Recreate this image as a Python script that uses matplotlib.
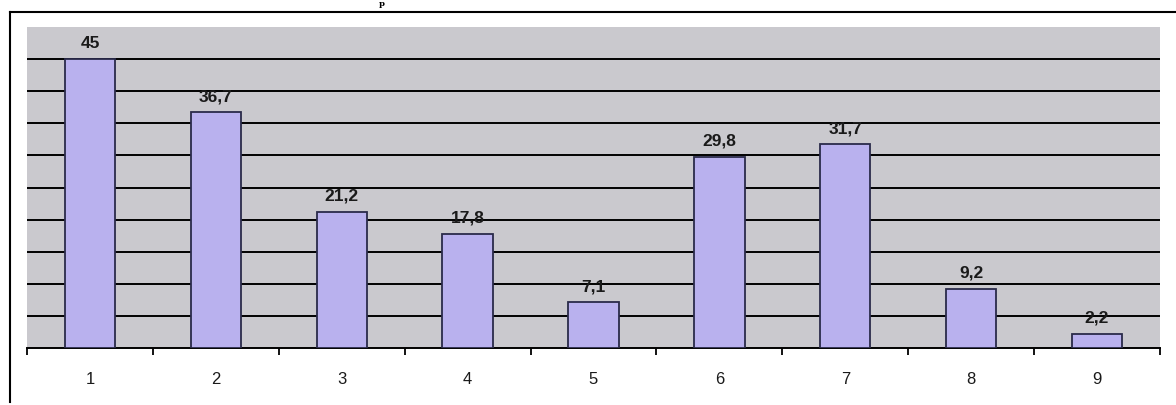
import matplotlib
matplotlib.use("Agg")
import matplotlib.pyplot as plt
from matplotlib.lines import Line2D
import numpy as np

categories = ["1", "2", "3", "4", "5", "6", "7", "8", "9"]
values = [45, 36.7, 21.2, 17.8, 7.1, 29.8, 31.7, 9.2, 2.2]
value_labels = ["45", "36,7", "21,2", "17,8", "7,1", "29,8", "31,7", "9,2", "2,2"]

plt.rcParams["font.family"] = ["Liberation Sans", "DejaVu Sans"]

fig = plt.figure(figsize=(11.76, 4.05), dpi=100)
fig.patch.set_facecolor("white")
ax = fig.add_axes([27/1176, 1 - 348/405, (1160 - 27)/1176, (348 - 27)/405])
ax.set_facecolor("#cac9ce")

x = np.arange(len(categories))
ax.bar(x, values, width=0.4, color="#b9b1ee", edgecolor="#2a2a4a", linewidth=1.3, zorder=3)
for xi, v, lab in zip(x, values, value_labels):
    ax.text(xi, v + 1.3, lab, ha="center", va="bottom", fontsize=12.5,
            fontweight="bold", color="#1a1a1a", zorder=4)

ax.set_xlim(-0.5, len(categories) - 0.5)
ax.set_ylim(0, 50)
ax.set_yticks(np.arange(5, 50, 5))
ax.yaxis.grid(True, color="black", linewidth=1.4, zorder=1)
ax.tick_params(axis="y", left=False, labelleft=False)
ax.set_xticks(x)
ax.set_xticklabels(categories, fontsize=12, color="#1a1a1a")
ax.tick_params(axis="x", which="major", length=0, pad=17)
ax.set_xticks(np.arange(-0.5, len(categories), 1), minor=True)
ax.tick_params(axis="x", which="minor", length=5, width=1.3, color="black", direction="out")
for s in ["left", "right", "top"]:
    ax.spines[s].set_visible(False)
ax.spines["bottom"].set_linewidth(1.4)

# outer frame
fig.add_artist(Line2D([10/1176, 10/1176], [1 - 12/405, 1 - 402/405], transform=fig.transFigure, color="black", linewidth=1.5))
fig.add_artist(Line2D([10/1176, 1.0], [1 - 12/405, 1 - 12/405], transform=fig.transFigure, color="black", linewidth=1.5))

# title fragment at the top (mostly cut off in the scan)
fig.text(382/1176, 1.0, "p", ha="center", va="top", fontsize=6, fontweight="bold", family="DejaVu Serif")

fig.savefig("out.png", dpi=100)
